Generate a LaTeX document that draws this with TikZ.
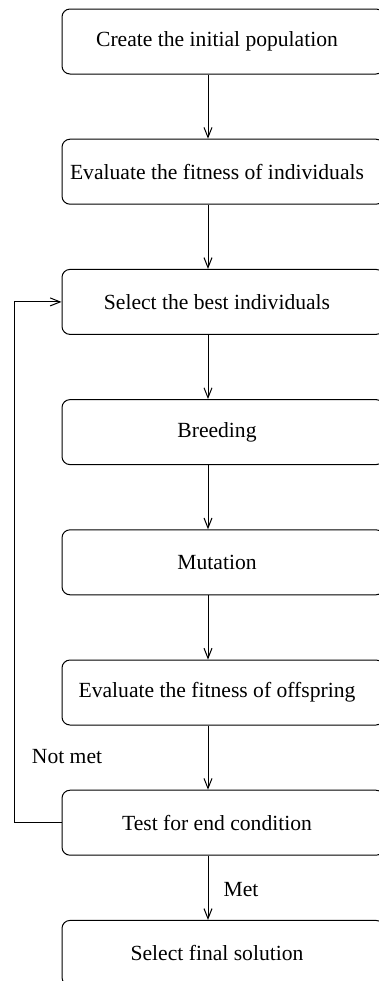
\documentclass[tikz,border=0pt]{standalone}
\usepackage{fontspec}
\setmainfont{Liberation Serif}
\usetikzlibrary{math,arrows.meta}

\tikzset{
  stepbox/.style={draw, rounded corners=4pt, minimum width=161pt, minimum height=32.5pt, inner sep=0pt, font=\fontsize{10.8}{13}\selectfont, execute at end node=\hspace{6pt}},
  flow/.style={-{Straight Barb[length=5pt,width=4pt]}},
  note/.style={font=\fontsize{10.8}{13}\selectfont},
}

\begin{document}
\begin{tikzpicture}[x=0.5pt,y=-0.5pt,line width=0.5pt]

\tikzmath{
\stepgap = 130.2;
\firsty = 41.5;
\boxx = 223;
}

\path[use as bounding box,clip] (0,0) rectangle (379,981);

% the steps
\node[stepbox] (init) at (\boxx,\firsty+0*\stepgap) {Create the initial population};
\node[stepbox] (evalind) at (\boxx,\firsty+1*\stepgap) {Evaluate the fitness of individuals};
\node[stepbox] (select) at (\boxx,\firsty+2*\stepgap) {Select the best individuals};
\node[stepbox] (breed) at (\boxx,\firsty+3*\stepgap) {Breeding};
\node[stepbox] (mutate) at (\boxx,\firsty+4*\stepgap) {Mutation};
\node[stepbox] (evaloff) at (\boxx,\firsty+5*\stepgap) {Evaluate the fitness of offspring};
\node[stepbox] (test) at (\boxx,\firsty+6*\stepgap) {Test for end condition};
\node[stepbox] (final) at (\boxx,\firsty+7*\stepgap) {Select final solution};

\coordinate (spine) at (208,0);
\coordinate (loop) at (14,0);

\draw[flow] (init.south -| spine) -- (evalind.north -| spine);
\draw[flow] (evalind.south -| spine) -- (select.north -| spine);
\draw[flow] (select.south -| spine) -- (breed.north -| spine);
\draw[flow] (breed.south -| spine) -- (mutate.north -| spine);
\draw[flow] (mutate.south -| spine) -- (evaloff.north -| spine);
\draw[flow] (evaloff.south -| spine) -- (test.north -| spine);
\draw[flow] (test.south -| spine) -- (final.north -| spine);

% back to selection
\draw[flow] (test.west) -- (test.west -| loop) -- (select.west -| loop) -- (select.west);

\node[note] (notmet) at (67,757) {Not met};
\node[note] (met) at (241,890) {Met};

\end{tikzpicture}
\end{document}
